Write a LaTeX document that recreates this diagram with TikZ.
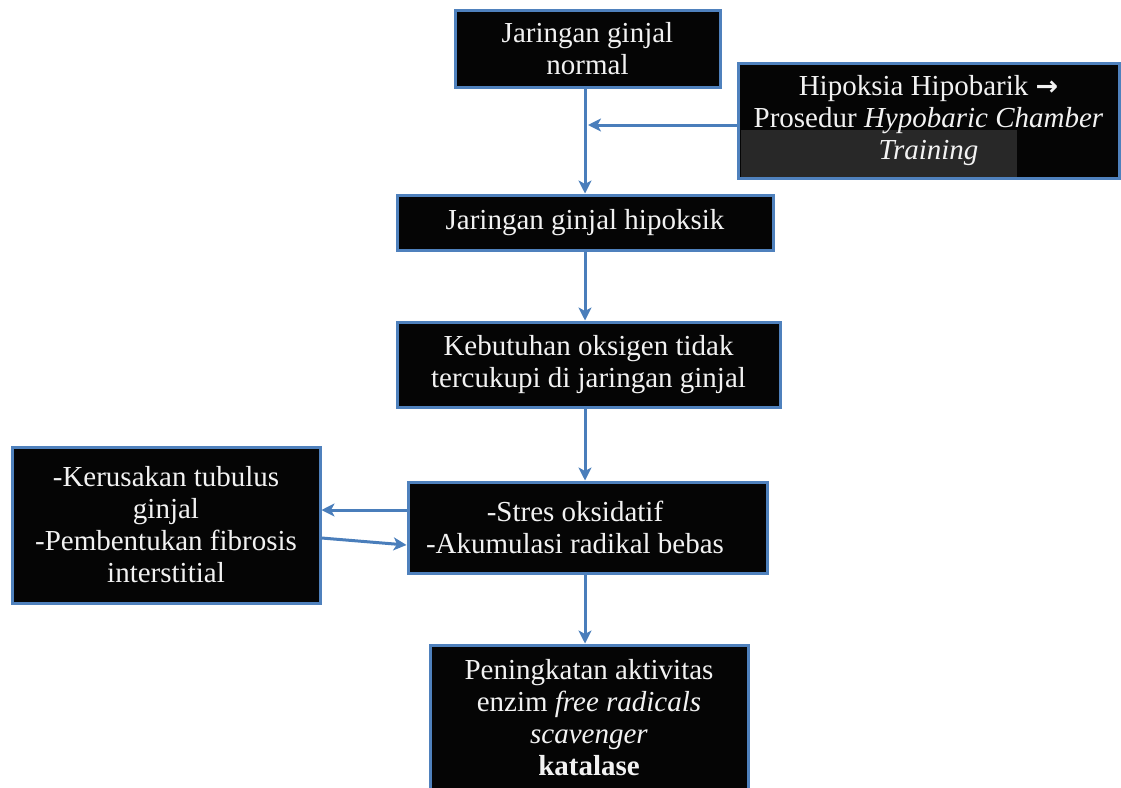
\documentclass[tikz,border=0pt]{standalone}
\usepackage{fontspec}
\setmainfont{Liberation Serif}
\newfontfamily\arrowfont{DejaVu Sans}
\usetikzlibrary{arrows.meta,calc}
\definecolor{boxblue}{HTML}{4F81BD}
\definecolor{linkblue}{HTML}{4A7EBB}
\definecolor{boxfill}{HTML}{050505}
\definecolor{patchgray}{HTML}{282828}
\definecolor{boxtext}{HTML}{F2F2F2}

\begin{document}
\begin{tikzpicture}[x=1pt,y=-1pt,
  boxtxt/.style={text=boxtext, align=center, inner sep=0pt,
    font=\fontsize{29}{32}\selectfont},
  box/.style={boxtxt, draw=boxblue, line width=3pt, fill=boxfill},
  link/.style={draw=linkblue, line width=3pt,
    -{Stealth[length=13pt,width=13pt,inset=3.5pt]}}]

% page frame
\useasboundingbox (0,0) rectangle (1121,787);

% spine of the main flow
\coordinate (spine) at (585,0);

% boxes
\node[box, minimum width=265pt, minimum height=77pt] (n1) at (587.5,48.5)
  {Jaringan ginjal\\normal};

\node[box, minimum width=381pt, minimum height=115pt] (n2) at (928.5,120.5) {};
\fill[patchgray] (740.5,130) rectangle (1017,176.5);
\node[boxtxt] (n2txt) at (n2.center)
  {Hipoksia Hipobarik {\arrowfont\bfseries\fontsize{27}{32}\selectfont →}\\Prosedur \textit{Hypobaric Chamber}\\\textit{Training}};

\node[box, minimum width=376pt, minimum height=55pt] (n3) at (585,222.5)
  {Jaringan ginjal hipoksik};

\node[box, minimum width=383pt, minimum height=85pt] (n4) at (588.5,364.5)
  {Kebutuhan oksigen tidak\\tercukupi di jaringan ginjal};

\node[box, minimum width=359pt, minimum height=91pt] (n5) at (587.5,527.5)
  {\hspace*{-25pt}-Stres oksidatif\\\hspace*{-25pt}-Akumulasi radikal bebas};

\node[box, minimum width=308pt, minimum height=156pt] (n6) at (166,525)
  {-Kerusakan tubulus\\ginjal\\-Pembentukan fibrosis\\interstitial};

\node[box, minimum width=318pt, minimum height=146pt] (n7) at (589,718)
  {Peningkatan aktivitas\\enzim \textit{free radicals}\\\textit{scavenger}\\\textbf{katalase}};

% connectors
\draw[link] (n1.south -| spine) -- (n3.north -| spine);
\draw[link] ($(n2.west)+(0,4.5)$) -- ($(n2.west -| spine)+(3,4.5)$);
\draw[link] (n3.south -| spine) -- (n4.north -| spine);
\draw[link] (n4.south -| spine) -- (n5.north -| spine);
\draw[link] (n5.south -| spine) -- (n7.north -| spine);
\draw[link] ($(n5.west)+(0,-17.5)$) -- ($(n6.east)+(0,-15)$);
\draw[link] ($(n6.east)+(0,13)$) -- ($(n5.west)+(0,17.5)$);
\end{tikzpicture}
\end{document}
